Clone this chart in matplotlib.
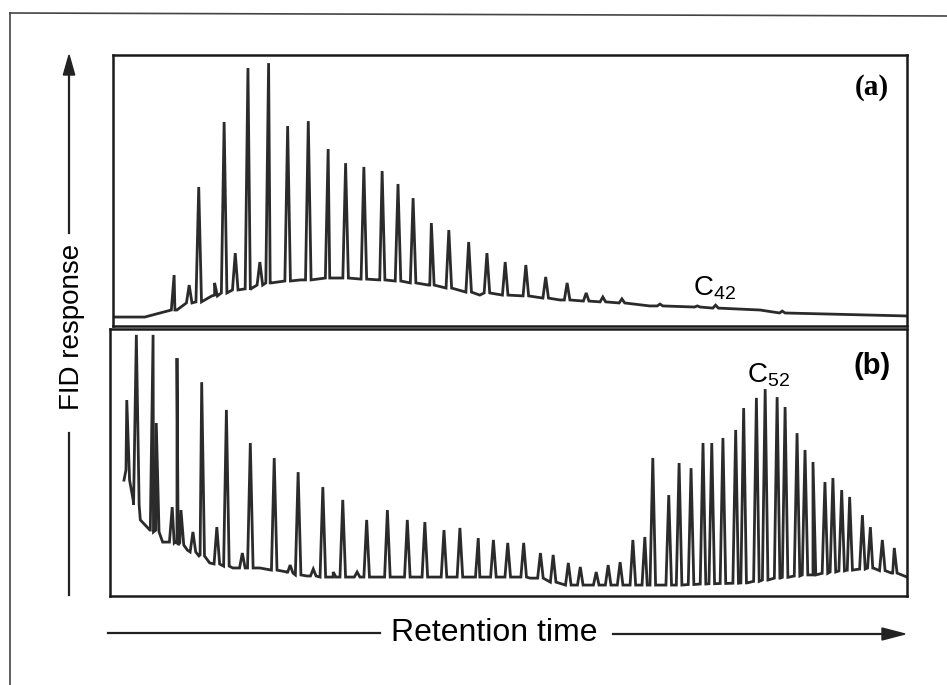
import matplotlib
matplotlib.use("Agg")
import matplotlib.pyplot as plt
from matplotlib.lines import Line2D
import numpy as np

# ---- panel (a): baseline and peaks (retention time 0-100, response 0-100)
base_a_x = [0, 4.0, 7.8, 12.8, 17.3, 19.8, 23.6, 27.3, 33.6, 39.9, 46.2, 56.3, 67.6, 81.5, 100]
base_a_y = [3.3, 3.3, 5.9, 11.4, 13.3, 15.9, 17.0, 17.7, 17.0, 15.1, 11.4, 9.6, 7.4, 5.9, 3.7]

peak_a_x = [7.7, 9.6, 10.8, 12.8, 14.0, 15.4, 17.0, 18.5, 19.6, 22.0, 24.6, 27.1, 29.3, 31.6,
            33.9, 35.9, 37.8, 40.1, 42.3, 44.8, 47.1, 49.4, 52.0, 54.5, 57.2, 59.6, 61.7,
            64.1, 68.9, 73.6, 75.9, 84.3]
peak_a_top = [18.8, 15.1, 51.3, 15.9, 75.3, 26.9, 95.2, 23.6, 97.0, 73.8, 75.6, 65.3, 60.1, 58.7,
              57.2, 52.4, 47.2, 38.0, 35.4, 31.0, 26.9, 23.6, 22.5, 18.1, 15.9, 12.2, 10.7,
              10.0, 8.1, 7.4, 7.7, 5.5]
peak_a_base = [5.9, 8.5, 8.9, 11.1, 12.2, 13.3, 13.7, 15.1, 15.9, 16.6, 17.0, 17.7, 17.7, 17.3,
               17.0, 16.6, 15.9, 15.1, 14.0, 12.5, 12.2, 11.4, 11.1, 10.3, 9.6, 9.2, 8.9,
               8.5, 7.4, 7.0, 6.6, 4.8]

# ---- panel (b)
base_b_x = [2.0, 2.9, 3.8, 5.0, 6.6, 8.4, 9.7, 11.3, 12.5, 15.4, 18.8, 22.2, 24.7, 28.0, 36.4,
            46.4, 52.7, 58.1, 67.4, 79.9, 84.1, 88.2, 92.5, 95.7, 98.2, 100]
base_b_y = [47.2, 36.0, 28.5, 24.7, 20.2, 19.9, 17.2, 15.4, 12.4, 10.5, 10.5, 9.0, 7.5, 7.1, 7.1,
            7.1, 6.7, 4.1, 4.1, 4.9, 6.7, 7.9, 9.7, 10.5, 8.6, 7.1]

peak_b_x = [2.1, 3.3, 5.4, 5.8, 7.8, 8.4, 8.9, 10.4, 11.5, 13.4, 14.6, 16.6, 17.6, 20.6, 22.6,
            23.6, 25.5, 26.7, 28.0, 29.2, 31.0, 32.2, 34.8, 37.3, 39.5, 41.9, 43.9, 46.2,
            48.1, 49.9, 51.9, 54.0, 55.6, 57.5, 59.0, 61.0, 62.5, 64.0, 65.6, 67.1, 68.1,
            70.1, 71.4, 72.9, 74.4, 75.5, 76.9, 78.5, 79.5, 81.1, 82.2, 83.7, 84.7, 86.2,
            87.2, 88.2, 89.7, 90.7, 91.8, 92.8, 94.4, 95.4, 96.9, 98.4]
peak_b_top = [73.4, 97.8, 97.8, 64.8, 33.3, 89.1, 32.2, 24.0, 80.1, 25.8, 69.7, 16.1, 57.3, 51.7,
              11.6, 46.4, 10.1, 40.8, 9.0, 36.0, 9.0, 28.5, 32.2, 28.5, 27.7, 24.7, 25.5,
              21.7, 21.0, 19.9, 19.9, 16.1, 15.4, 12.4, 10.9, 9.0, 11.6, 12.7, 21.0, 22.1,
              51.7, 37.8, 49.8, 47.9, 57.3, 57.3, 59.2, 62.2, 70.4, 74.2, 77.5, 74.5, 70.8,
              61.0, 54.7, 50.2, 42.7, 44.2, 39.7, 37.1, 30.3, 25.8, 21.0, 18.0]
peak_b_base = [43.4, 34.1, 24.7, 24.0, 20.2, 19.9, 19.1, 16.5, 15.0, 12.0, 11.2, 10.5, 10.5, 9.7,
               8.6, 7.9, 7.5, 7.1, 7.1, 7.1, 7.1, 7.1, 7.1, 7.1, 7.1, 7.1, 7.1, 7.1, 7.1,
               7.1, 7.1, 6.7, 5.2, 4.1, 4.1, 4.1, 4.1, 4.1, 4.1, 4.1, 4.1, 4.1, 4.1, 4.3,
               4.5, 4.6, 4.7, 4.8, 4.9, 5.5, 6.0, 6.7, 7.0, 7.5, 7.9, 7.9, 8.5, 9.0, 9.4,
               9.7, 10.1, 10.5, 9.5, 8.6]


def trace(bx, by, px, pbase, ptop, w=0.35):
    # line through the baseline points, each peak drawn as a narrow spike
    xs = list(bx)
    ys = list(by)
    for x, b, t in zip(px, pbase, ptop):
        xs += [x - w, x, x + w]
        ys += [b, t, b]
    order = np.argsort(xs, kind="stable")
    return np.array(xs)[order], np.array(ys)[order]


plt.rcParams["font.family"] = ["Liberation Sans", "DejaVu Sans"]
plt.rcParams["mathtext.fontset"] = "custom"
plt.rcParams["mathtext.rm"] = "Liberation Sans"
plt.rcParams["mathtext.it"] = "Liberation Sans:italic"

fig = plt.figure(figsize=(9.47, 6.85), dpi=100)

ax_a = fig.add_axes([0.1193, 0.5241, 0.8384, 0.3956])
ax_b = fig.add_axes([0.1162, 0.1299, 0.8416, 0.3898])

xa, ya = trace(base_a_x, base_a_y, peak_a_x, peak_a_base, peak_a_top)
xb, yb = trace(base_b_x, base_b_y, peak_b_x, peak_b_base, peak_b_top)

ax_a.plot(xa, ya, color="#2b2b2b", lw=2.0, solid_joinstyle="miter")
ax_b.plot(xb, yb, color="#2b2b2b", lw=2.0, solid_joinstyle="miter")

for ax in (ax_a, ax_b):
    ax.set_xlim(0, 100)
    ax.set_ylim(0, 100)
    ax.set_xticks([])
    ax.set_yticks([])
    for s in ax.spines.values():
        s.set_linewidth(1.8)
        s.set_color("#1a1a1a")

ax_a.text(95.6, 88, "(a)", fontsize=21, fontweight="bold", family="Liberation Serif",
          ha="center", va="center")
ax_a.text(73.0, 11.4, "C$_{42}$", fontsize=20, ha="left", va="baseline")
ax_b.text(95.6, 86, "(b)", fontsize=21, fontweight="bold", ha="center", va="center")
ax_b.text(79.9, 79.8, "C$_{52}$", fontsize=20, ha="left", va="baseline")

# axis annotations with arrows
fig.text(0.0760, 1 - 327 / 685, "FID response", rotation=90, fontsize=20,
         ha="center", va="center")
fig.add_artist(Line2D([0.0729, 0.0729], [1 - 595 / 685, 1 - 433 / 685], color="#222", lw=1.6))
fig.add_artist(Line2D([0.0729, 0.0729], [1 - 233 / 685, 1 - 70 / 685], color="#222", lw=1.6))
fig.patches.append(plt.Polygon([[0.0729 - 0.006, 1 - 75 / 685], [0.0729 + 0.006, 1 - 75 / 685],
                                [0.0729, 1 - 55 / 685]], closed=True, color="#222",
                               transform=fig.transFigure, figure=fig))

fig.text(494 / 947, 1 - 633 / 685, "Retention time", fontsize=23, ha="center", va="center")
fig.add_artist(Line2D([108 / 947, 380 / 947], [1 - 633 / 685] * 2, color="#222", lw=1.6))
fig.add_artist(Line2D([613 / 947, 885 / 947], [1 - 634 / 685] * 2, color="#222", lw=1.6))
fig.patches.append(plt.Polygon([[882 / 947, 1 - 628 / 685], [882 / 947, 1 - 640 / 685],
                                [905 / 947, 1 - 634 / 685]], closed=True, color="#222",
                               transform=fig.transFigure, figure=fig))

# outer frame of the scanned figure
fig.add_artist(Line2D([10 / 947, 10 / 947], [0, 1 - 13 / 685], color="#444", lw=1.2))
fig.add_artist(Line2D([10 / 947, 1], [1 - 13 / 685, 1 - 16 / 685], color="#444", lw=1.2))

fig.savefig("out.png", dpi=100)
